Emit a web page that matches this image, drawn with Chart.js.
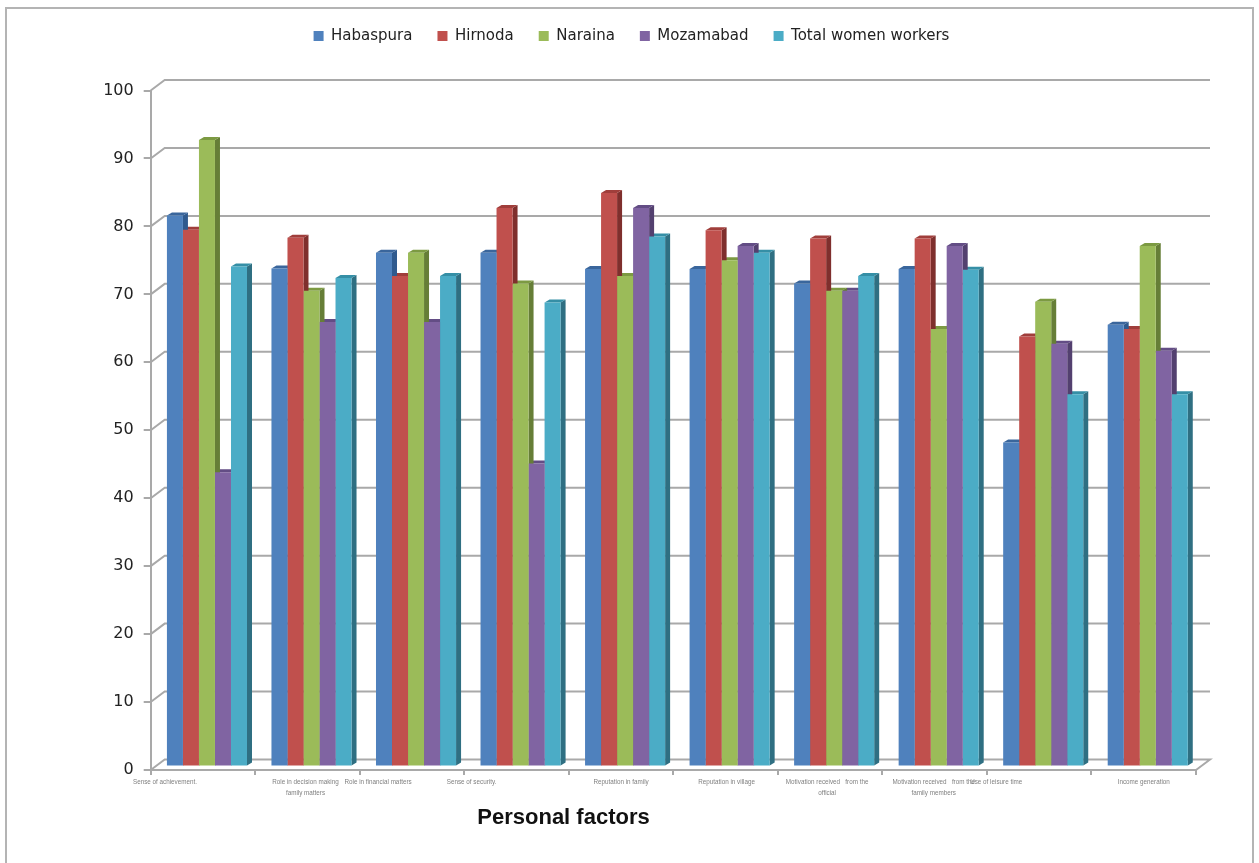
<!DOCTYPE html>
<html>
<head>
<meta charset="utf-8">
<title>Personal factors</title>
<script src="https://cdn.jsdelivr.net/npm/chart.js@4/dist/chart.umd.min.js"></script>
<style>
    html, body { margin: 0; padding: 0; background: #fff; overflow: hidden; }
    #frame {
        position: absolute; left: 5px; top: 7px; width: 1245px; height: 860px;
        border: 2px solid #b4b4b4; border-bottom: none;
    }
    #chart { position: absolute; left: 0; top: 0; }
</style>
</head>
<body>
<div id="frame"></div>
<canvas id="chart" width="1259" height="863"></canvas>
<script>
// Multi-line category labels
const categories = [
    ["Sense of achievement."],
    ["Role in decision making", "family matters"],
    ["Role in financial matters"],
    ["Sense of security."],
    ["Reputation in family"],
    ["Reputation in village"],
    ["Motivation received   from the", "official"],
    ["Motivation received   from the", "family members"],
    ["Use of leisure time"],
    ["Income generation"]
];

const habaspura = [81.1, 73.3, 75.6, 75.6, 73.2, 73.2, 71.1, 73.2, 47.7, 65.0];
const hirnoda = [79.0, 77.8, 72.2, 82.2, 84.4, 78.9, 77.7, 77.7, 63.3, 64.4];
const naraina = [92.2, 70.0, 75.6, 71.1, 72.2, 74.5, 70.0, 64.4, 68.4, 76.6];
const mozamabad = [43.3, 65.4, 65.4, 44.6, 82.2, 76.6, 70.0, 76.6, 62.2, 61.2];
const totalWomen = [73.6, 71.9, 72.2, 68.3, 78.0, 75.6, 72.2, 73.1, 54.8, 54.8];

const yTicks = [0, 10, 20, 30, 40, 50, 60, 70, 80, 90, 100];

const frontColors = ["#4f81bd", "#c0504d", "#9bbb59", "#8064a2", "#4bacc6"];
const sideColors = ["#2f5a8e", "#7f2f2d", "#667e37", "#53406f", "#2f6f82"];
const capColors = ["#3a669c", "#a03e3b", "#7c9a42", "#634d85", "#358fa6"];

// The axis labels do not sit under the centre of their group
const labelShift = [-38, -2, -34, -45, 0, 1, -3, -1, -43, 0];

const wallX = 14, wallY = 10.5;   // how far the back wall sits from the front axes
const barX = 4, barY = -3.5;      // bars stand a little inside the floor
const sideX = 5, sideY = 3;       // visible depth of one bar
const axisColor = "#a9a9a9";

// Legend box stays a fixed height so the plot top is independent of the font
const legendHeight = {
    id: "legendHeight",
    beforeLayout(chart) {
        let legend = chart.legend;
        if (legend._fitWrapped) return;
        let fit = legend.fit;
        legend.fit = function () {
            fit.call(this);
            this.height = 87;
        };
        legend._fitWrapped = true;
    }
};

// Back wall, side wall and floor lines
const walls = {
    id: "walls",
    beforeDatasetsDraw(chart) {
        let ctx = chart.ctx;
        let { left, right } = chart.chartArea;
        let y = chart.scales.y;
        ctx.save();
        ctx.strokeStyle = axisColor;
        ctx.lineWidth = 2;
        yTicks.forEach(function (v) {
            let py = y.getPixelForValue(v);
            ctx.beginPath();
            ctx.moveTo(left, py);
            ctx.lineTo(left + wallX, py - wallY);
            ctx.lineTo(right + wallX, py - wallY);
            if (v === 0) ctx.lineTo(right, py);
            ctx.stroke();
        });
        ctx.restore();
    }
};

// Side and top faces go down first, the library's bars are then the front faces
const barDepth = {
    id: "barDepth",
    beforeDatasetsDraw(chart) {
        let ctx = chart.ctx;
        ctx.save();
        ctx.translate(barX, barY);
        for (let d = chart.data.datasets.length - 1; d >= 0; d--) {
            chart.getDatasetMeta(d).data.forEach(function (bar) {
                let r = bar.x + bar.width / 2;
                let l = bar.x - bar.width / 2;
                ctx.fillStyle = sideColors[d];
                ctx.beginPath();
                ctx.moveTo(r, bar.y);
                ctx.lineTo(r + sideX, bar.y - sideY);
                ctx.lineTo(r + sideX, bar.base - sideY);
                ctx.lineTo(r, bar.base);
                ctx.closePath();
                ctx.fill();
                ctx.fillStyle = capColors[d];
                ctx.beginPath();
                ctx.moveTo(l, bar.y);
                ctx.lineTo(l + sideX, bar.y - sideY);
                ctx.lineTo(r + sideX, bar.y - sideY);
                ctx.lineTo(r, bar.y);
                ctx.closePath();
                ctx.fill();
            });
        }
        ctx.restore();
        ctx.save();
        ctx.translate(barX, barY);
    },
    afterDatasetsDraw(chart) {
        chart.ctx.restore();
    }
};

// Tiny category labels and the axis title, which sits left of the plot centre
const xText = {
    id: "xText",
    afterDraw(chart) {
        let ctx = chart.ctx;
        let x = chart.scales.x;
        ctx.save();
        ctx.textAlign = "center";
        ctx.textBaseline = "middle";
        ctx.fillStyle = "#808080";
        ctx.font = "6.3px 'Liberation Sans'";
        categories.forEach(function (lines, i) {
            let px = x.getPixelForTick(i) + labelShift[i];
            lines.forEach(function (line, n) {
                ctx.fillText(line, px, 782 + n * 11);
            });
        });
        ctx.fillStyle = "#111";
        ctx.font = "bold 22px 'Liberation Sans'";
        ctx.fillText("Personal factors", 563.5, 818);
        ctx.restore();
    }
};

const seriesNames = ["Habaspura", "Hirnoda", "Naraina", "Mozamabad", "Total women workers"];
const seriesValues = [habaspura, hirnoda, naraina, mozamabad, totalWomen];

new Chart(document.getElementById("chart"), {
    type: "bar",
    data: {
        labels: categories,
        datasets: seriesNames.map(function (name, i) {
            return {
                label: name,
                data: seriesValues[i],
                backgroundColor: frontColors[i],
                borderWidth: 0,
                clip: false,
                categoryPercentage: 0.766,
                barPercentage: 1
            };
        })
    },
    plugins: [legendHeight, walls, barDepth, xText],
    options: {
        responsive: false,
        animation: false,
        layout: { padding: { top: 3.5, left: 67, right: 63, bottom: 0 } },
        plugins: {
            tooltip: { enabled: false },
            title: { display: false },
            legend: {
                display: true,
                position: "top",
                labels: {
                    boxWidth: 10,
                    boxHeight: 10,
                    padding: 25,
                    color: "#222",
                    font: { family: "'DejaVu Sans'", size: 15 }
                }
            }
        },
        scales: {
            x: {
                afterFit(scale) { scale.height = 93; },
                border: { color: axisColor, width: 2 },
                grid: { drawOnChartArea: false, color: axisColor, tickLength: 5, lineWidth: 2, offset: true },
                ticks: { display: false }
            },
            y: {
                min: 0,
                max: 100,
                afterBuildTicks(scale) { scale.ticks = yTicks.map(function (v) { return { value: v }; }); },
                afterFit(scale) { scale.width = 83.7; },
                border: { color: axisColor, width: 2 },
                grid: { drawOnChartArea: false, color: axisColor, tickLength: 7, lineWidth: 2 },
                ticks: {
                    color: "#222",
                    padding: 10,
                    font: { family: "'DejaVu Sans'", size: 16 }
                }
            }
        }
    }
});
</script>
</body>
</html>
